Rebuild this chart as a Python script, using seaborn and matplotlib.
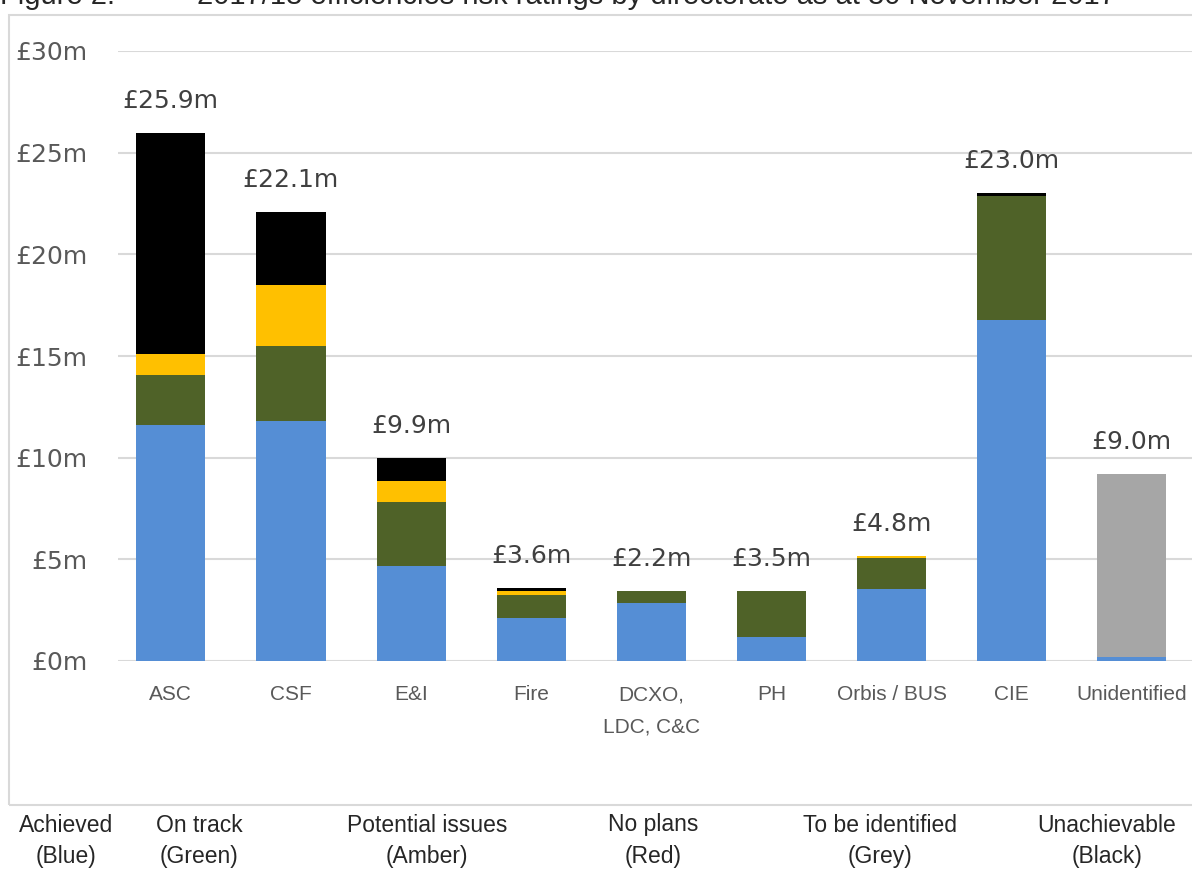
import numpy as np
import pandas as pd
import matplotlib
matplotlib.use("Agg")
import matplotlib.pyplot as plt
import seaborn as sb
from matplotlib.patches import Rectangle

# data (GBP millions)
directorates = ["ASC", "CSF", "E&I", "Fire", "DCXO,\nLDC, C&C", "PH", "Orbis / BUS", "CIE", "Unidentified"]
achieved = [11.6, 11.8, 4.67, 2.1, 2.85, 1.18, 3.54, 16.77, 0.2]
on_track = [2.45, 3.7, 3.15, 1.15, 0.6, 2.27, 1.52, 6.1, 0.0]
potential = [1.05, 3.0, 1.03, 0.2, 0.0, 0.0, 0.1, 0.0, 0.0]
no_plans = [0.0, 0.0, 0.0, 0.0, 0.0, 0.0, 0.0, 0.0, 0.0]
to_be_identified = [0.0, 0.0, 0.0, 0.0, 0.0, 0.0, 0.0, 0.0, 9.0]
unachievable = [10.85, 3.6, 1.13, 0.15, 0.0, 0.0, 0.0, 0.13, 0.0]
total_labels = ["£25.9m", "£22.1m", "£9.9m", "£3.6m", "£2.2m", "£3.5m", "£4.8m", "£23.0m", "£9.0m"]
y_ticks = [0, 5, 10, 15, 20, 25, 30]
legend_names = ["Achieved\n(Blue)", "On track\n(Green)", "Potential issues\n(Amber)",
                "No plans\n(Red)", "To be identified\n(Grey)", "Unachievable\n(Black)"]

layers = [
    ("achieved", achieved, "#558ED5"),
    ("on_track", on_track, "#4F6228"),
    ("potential", potential, "#FFC000"),
    ("no_plans", no_plans, "#FF0000"),
    ("to_be_identified", to_be_identified, "#A6A6A6"),
    ("unachievable", unachievable, "#000000"),
]

df = pd.DataFrame({"directorate": directorates})
cum = np.zeros(len(directorates))
for name, vals, col in layers:
    cum = cum + np.array(vals)
    df["cum_" + name] = cum

sb.set_style("white")
plt.rcParams["font.family"] = ["Liberation Sans", "DejaVu Sans"]

fig = plt.figure(figsize=(11.92, 8.69), dpi=100)
ax = fig.add_axes([118 / 1192, 1 - 661 / 869, 1 - 118 / 1192, 610 / 869])

# stacked bars: draw cumulative heights from the top layer down
for name, vals, col in reversed(layers):
    sb.barplot(data=df, x="directorate", y="cum_" + name, color=col, width=0.575,
               order=directorates, ax=ax, saturation=1, linewidth=0)

ax.set_xlim(-0.44, 8.5)
ax.set_ylim(0, 30)
ax.set_yticks(y_ticks)
ax.set_yticklabels(["£%dm" % t for t in y_ticks], family="DejaVu Sans",
                   fontsize=18, color="#595959")
ax.set_xticks(range(len(directorates)))
ax.set_xticklabels(directorates, fontsize=15, color="#595959", linespacing=1.85, va="top")
ax.tick_params(axis="y", length=0, pad=22)
ax.tick_params(axis="x", length=0, pad=17.5)
ax.set_xlabel("")
ax.set_ylabel("")
ax.yaxis.grid(True, color="#d9d9d9", linewidth=1.5)
ax.set_axisbelow(True)
for s in ax.spines.values():
    s.set_visible(False)

# total labels above bars
for i, lab in enumerate(total_labels):
    ax.annotate(lab, (i, df["cum_unachievable"][i]), xytext=(0, 23), textcoords="offset points",
                ha="center", va="center", fontsize=18, color="#404040",
                family="DejaVu Sans")

# chart area border
fig.patches.append(Rectangle((9 / 1192, 1 - 805 / 869), 1.2, (805 - 15) / 869,
                             transform=fig.transFigure, fill=False,
                             edgecolor="#d9d9d9", linewidth=1.5))

# title (cut off at the top of the picture)
fig.text(0.0, 1 - 4 / 869, "Figure 2:", fontsize=21, va="baseline", ha="left")
fig.text(197 / 1192, 1 - 4 / 869, "2017/18 efficiencies risk ratings by directorate as at 30 November 2017",
         fontsize=21, va="baseline", ha="left")

# colour key under the chart
key_x = [66, 199, 427, 653, 880, 1107]
for xk, txt in zip(key_x, legend_names):
    fig.text(xk / 1192, 1 - 841 / 869, txt, ha="center", va="center", fontsize=16.5,
             linespacing=1.5)

fig.savefig("out.png", dpi=100)
